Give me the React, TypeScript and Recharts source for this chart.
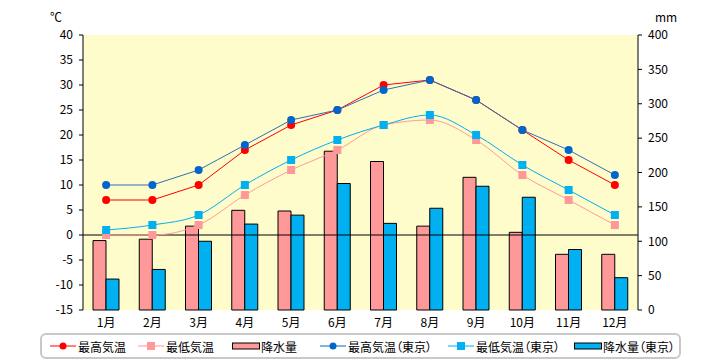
import React from 'react'
import { ComposedChart, Bar, Line, XAxis, YAxis, CartesianGrid, ReferenceLine } from 'recharts'

const months = ['1月', '2月', '3月', '4月', '5月', '6月', '7月', '8月', '9月', '10月', '11月', '12月']

// 大阪
const highTemp = [7, 7, 10, 17, 22, 25, 30, 31, 27, 21, 15, 10]
const lowTemp = [0, 0, 2, 8, 13, 17, 22, 23, 19, 12, 7, 2]
const rain = [101, 103, 122, 145, 144, 231, 216, 122, 193, 113, 81, 81]

// 東京
const highTempTokyo = [10, 10, 13, 18, 23, 25, 29, 31, 27, 21, 17, 12]
const lowTempTokyo = [1, 2, 4, 10, 15, 19, 22, 24, 20, 14, 9, 4]
const rainTokyo = [45, 59, 100, 125, 138, 184, 126, 148, 180, 164, 88, 47]

const tempTicks = [-15, -10, -5, 0, 5, 10, 15, 20, 25, 30, 35, 40]
const rainTicks = [0, 50, 100, 150, 200, 250, 300, 350, 400]

const data = months.map((m, i) => ({
  month: m,
  high: highTemp[i],
  low: lowTemp[i],
  rain: rain[i],
  highTokyo: highTempTokyo[i],
  lowTokyo: lowTempTokyo[i],
  rainTokyo: rainTokyo[i],
}))

const FONT = '"Noto Sans CJK JP", sans-serif'
const RED = '#ff0000'
const PINK = '#ff9999'
const NAVY = '#0066cc'
const NAVY_LINE = '#2f6fb5'
const SKY = '#00b0f0'

const Square = (color: string) => (props: any) => {
  const { cx, cy } = props
  if (cx == null || cy == null) return null
  return <rect x={cx - 4} y={cy - 4} width={8} height={8} fill={color} />
}

const LegendLine = ({ color, marker }: { color: string; marker: 'circle' | 'square' }) => (
  <svg width={26} height={10} style={{ marginRight: 2 }}>
    <line x1={0} y1={5} x2={26} y2={5} stroke={color} strokeWidth={1} />
    {marker === 'circle' ? (
      <circle cx={13} cy={5} r={3.5} fill={color} />
    ) : (
      <rect x={9} y={1} width={8} height={8} fill={color} />
    )}
  </svg>
)

const LegendBar = ({ color }: { color: string }) => (
  <svg width={28} height={10} style={{ marginRight: 1 }}>
    <rect x={0.5} y={2} width={27} height={6} fill={color} stroke="#000" strokeWidth={1} />
  </svg>
)

const legendItems = [
  { label: '最高気温', el: <LegendLine color={RED} marker="circle" />, left: 50 },
  { label: '最低気温', el: <LegendLine color={PINK} marker="square" />, left: 138 },
  { label: '降水量', el: <LegendBar color={PINK} />, left: 232 },
  { label: '最高気温（東京）', el: <LegendLine color={NAVY} marker="circle" />, left: 320 },
  { label: '最低気温（東京）', el: <LegendLine color={SKY} marker="square" />, left: 448 },
  { label: '降水量（東京）', el: <LegendBar color={SKY} />, left: 574 },
]

export default function App() {
  return (
    <div style={{ position: 'absolute', left: 0, top: 0, width: 720, height: 360, background: '#fff', fontFamily: FONT }}>
      <div style={{ position: 'absolute', left: 50, top: 8, fontSize: 12 }}>℃</div>
      <div style={{ position: 'absolute', left: 655, top: 8, fontSize: 12 }}>mm</div>
      <ComposedChart
        width={720}
        height={332}
        data={data}
        margin={{ top: 35, right: 0, left: 0, bottom: 0 }}
        barGap={0}
        barSize={13}
      >
        <CartesianGrid fill="#fffccc" horizontal={false} vertical={false} stroke="none" />
        <XAxis
          dataKey="month"
          axisLine={false}
          tickLine={false}
          height={22}
          tick={{ fill: '#000', fontSize: 12, fontFamily: FONT }}
          tickMargin={2}
        />
        <YAxis
          yAxisId="t"
          orientation="left"
          width={83}
          domain={[-15, 40]}
          ticks={tempTicks}
          interval={0}
          axisLine={{ stroke: '#000' }}
          tickLine={{ stroke: '#000' }}
          tickSize={4}
          tickMargin={6}
          tick={{ fill: '#000', fontSize: 12, fontFamily: FONT }}
        />
        <YAxis
          yAxisId="r"
          orientation="right"
          width={82}
          domain={[0, 400]}
          ticks={rainTicks}
          interval={0}
          axisLine={{ stroke: '#000' }}
          tickLine={{ stroke: '#000' }}
          tickSize={4}
          tickMargin={6}
          tick={{ fill: '#000', fontSize: 12, fontFamily: FONT }}
        />
        <Bar yAxisId="r" dataKey="rain" fill={PINK} stroke="#000" strokeWidth={1} isAnimationActive={false} />
        <Bar yAxisId="r" dataKey="rainTokyo" fill={SKY} stroke="#000" strokeWidth={1} isAnimationActive={false} />
        <ReferenceLine yAxisId="t" y={0} stroke="#000" strokeWidth={1} />
        <Line
          yAxisId="t"
          type="linear"
          dataKey="high"
          stroke={RED}
          strokeWidth={1}
          dot={{ r: 4, fill: RED, stroke: 'none' }}
          isAnimationActive={false}
        />
        <Line
          yAxisId="t"
          type="monotone"
          dataKey="low"
          stroke={PINK}
          strokeWidth={1}
          dot={Square(PINK)}
          isAnimationActive={false}
        />
        <Line
          yAxisId="t"
          type="linear"
          dataKey="highTokyo"
          stroke={NAVY_LINE}
          strokeWidth={1}
          dot={{ r: 4, fill: NAVY, stroke: 'none' }}
          isAnimationActive={false}
        />
        <Line
          yAxisId="t"
          type="monotone"
          dataKey="lowTokyo"
          stroke={SKY}
          strokeWidth={1}
          dot={Square(SKY)}
          isAnimationActive={false}
        />
      </ComposedChart>
      <div
        style={{
          position: 'absolute',
          left: 40,
          top: 333,
          width: 637,
          height: 22,
          border: '2px solid #c8c8c8',
          borderRadius: 6,
        }}
      />
      {legendItems.map((it) => (
        <div
          key={it.label}
          style={{
            position: 'absolute',
            left: it.left,
            top: 337,
            height: 18,
            display: 'flex',
            alignItems: 'center',
            fontSize: 12,
            whiteSpace: 'nowrap',
            fontFeatureSettings: '"palt"',
          }}
        >
          {it.el}
          <span>{it.label}</span>
        </div>
      ))}
    </div>
  )
}
